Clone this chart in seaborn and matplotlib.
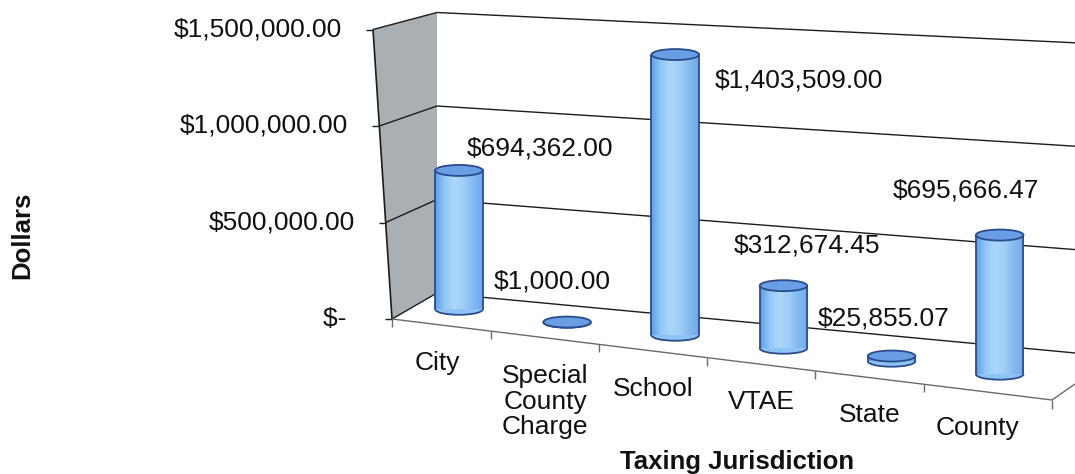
import numpy as np
import pandas as pd
import matplotlib
matplotlib.use('Agg')
import matplotlib.pyplot as plt
import seaborn as sns
from matplotlib.patches import Ellipse, Arc, Polygon
from matplotlib.transforms import Affine2D, IdentityTransform
from matplotlib.colors import LinearSegmentedColormap

# data
categories = ['City', 'Special\nCounty\nCharge', 'School', 'VTAE', 'State', 'County']
amounts = [694362.00, 1000.00, 1403509.00, 312674.45, 25855.07, 695666.47]
amount_labels = ['$694,362.00', '$1,000.00', '$1,403,509.00',
                 '$312,674.45', '$25,855.07', '$695,666.47']
y_ticks = [0, 500000, 1000000, 1500000]
y_tick_labels = ['$-', '$500,000.00', '$1,000,000.00', '$1,500,000.00']
x_title = 'Taxing Jurisdiction'
y_title = 'Dollars'

# where each value label sits relative to its bar top (points)
label_offsets = [(58, 16), (-11, 29), (89, -19), (17, 29), (-6, 27), (-24, 32)]

sns.set_theme(style='white')
plt.rcParams['font.family'] = ['Liberation Sans', 'DejaVu Sans']
fs = 19

W, H = 1075, 474
fig = plt.figure(figsize=(W / 100, H / 100), dpi=100)
x0, step = 459, 108.14
ax = fig.add_axes([(x0 - step / 2) / W, (H - 309.3) / H, 6 * step / W, 300 / H])

df = pd.DataFrame({'jurisdiction': categories, 'amount': amounts})
sns.barplot(data=df, x='jurisdiction', y='amount', order=categories,
            color='#8EC4F5', saturation=1, width=0.44, errorbar=None, ax=ax)
ax.set_xlim(-0.5, 5.5)
ax.set_ylim(0, 1.5e6)
ax.axis('off')

disp = IdentityTransform()
slope = 0.12


def img(x, y):
    # image pixel (y down) -> display coords
    return (x, H - y)


def hpx(v):
    return ax.transData.transform((0, v))[1] - ax.transData.transform((0, 0))[1]


def drop(xd):
    # floor runs downhill to the right: shift a bar down by its x position
    xp = ax.transData.transform((xd, 0))[0]
    return ax.transData + Affine2D().translate(0, -slope * (xp - x0))


edge_shift = Affine2D().translate(-22, -15)

wall_c = '#A9AFB2'
line_c = '#1c1c1c'
floor_c = '#6a6a6a'
edge_c = '#2B4C8C'
top_c = '#6A9EE4'


def left_front(v):
    h = hpx(v)
    return (392 - 19 * h / 300, 319 - 0.965 * h)


def back_left(v):
    h = hpx(v)
    return (437, 293 - 0.935 * h)


def back_right(v, xr=1080):
    h = hpx(v)
    x, y = back_left(v)
    return (xr, y + (0.094 - 0.000155 * h) * (xr - x))


top = y_ticks[-1]
ax.add_patch(Polygon([img(*left_front(0)), img(*left_front(top)),
                      img(*back_left(top)), img(*back_left(0))],
                     closed=True, transform=disp, facecolor=wall_c,
                     edgecolor='none', zorder=0.5, clip_on=False))


def seg(pts, **kw):
    xs, ys = zip(*[img(*p) for p in pts])
    ax.plot(xs, ys, transform=disp, clip_on=False, solid_capstyle='butt', **kw)


seg([left_front(0), left_front(top)], color=line_c, lw=1.2, zorder=1)
for v, lab in zip(y_ticks, y_tick_labels):
    lf = left_front(v)
    seg([lf, back_left(v), back_right(v)], color=line_c, lw=1.0, zorder=1)
    seg([(lf[0] - 7, lf[1]), lf], color=line_c, lw=1.0, zorder=1)
    pad = '  ' if v == 0 else ''
    ax.text(*img(lf[0] - 31, lf[1]), lab + pad, transform=disp, ha='right',
            va='center', fontsize=fs, color='#111111', clip_on=False)

# floor front edge
fl = left_front(0)
fr = (1052, fl[1] + 0.1227 * (1052 - fl[0]))
seg([fl, fr, (1075, fr[1] - 16)], color=floor_c, lw=1.0, zorder=1)
seg([fr, (fr[0], fr[1] + 9)], color=floor_c, lw=1.0, zorder=1)
seg([fl, (fl[0], fl[1] + 8)], color=floor_c, lw=1.0, zorder=1)
for b in np.arange(0.5, len(categories) - 0.5):
    bx = (drop(b) + edge_shift).transform((b, 0))[0]
    by = fl[1] + 0.1227 * (bx - fl[0])
    seg([(bx, by), (bx, by + 8)], color=floor_c, lw=1.0, zorder=1)

# cylinders
w = 0.44
ell = 11 / (hpx(1e6) / 1e6)
grad_cmap = LinearSegmentedColormap.from_list(
    'cyl', ['#5E9FE6', '#94C8F6', '#ADD7FA', '#A0CEF8', '#84BAF0', '#6FA9E9'])
grad = np.linspace(0, 1, 64)[None, :]
for i, (bar, v) in enumerate(zip(ax.containers[0], amounts)):
    tf = drop(i)
    bar.set_transform(tf)
    bar.set_clip_on(False)
    bar.set_edgecolor('none')
    bar.set_zorder(3)
    ax.add_patch(Ellipse((i, 0), w, ell, transform=tf, facecolor='#8EC4F5',
                         edgecolor='none', zorder=2.9, clip_on=False))
    im = ax.imshow(grad, extent=(i - w / 2, i + w / 2, 0, v), transform=tf,
                   aspect='auto', cmap=grad_cmap, interpolation='bilinear',
                   zorder=3.2)
    im.set_clip_path(bar)
    ax.add_patch(Arc((i, 0), w, ell, theta1=180, theta2=360, transform=tf,
                     color=edge_c, lw=1.3, zorder=4, clip_on=False))
    for sx in (i - w / 2, i + w / 2):
        ax.plot([sx, sx], [0, v], transform=tf, color=edge_c, lw=1.3,
                zorder=4, clip_on=False)
    ax.add_patch(Ellipse((i, v), w, ell, transform=tf, facecolor=top_c,
                         edgecolor=edge_c, lw=1.3, zorder=5, clip_on=False))

    ax.annotate(amount_labels[i], xy=(i, v), xycoords=tf,
                xytext=label_offsets[i], textcoords='offset points',
                ha='center', va='center', fontsize=fs, color='#111111',
                zorder=6, annotation_clip=False)
    ax.annotate(categories[i], xy=(i, 0), xycoords=tf + edge_shift,
                xytext=(0, -19), textcoords='offset points', ha='center',
                va='top', fontsize=fs, linespacing=1.1, color='#111111',
                annotation_clip=False)

ax.set_xlim(-0.5, 5.5)
ax.set_ylim(0, 1.5e6)

fig.text(22 / W, 1 - 235 / H, y_title, rotation=90, ha='center', va='center',
         fontsize=18.5, fontweight='bold', color='#111111')
fig.text(737 / W, 1 - 462 / H, x_title, ha='center', va='center',
         fontsize=18.5, fontweight='bold', color='#111111')

fig.savefig('out.png', dpi=100)
